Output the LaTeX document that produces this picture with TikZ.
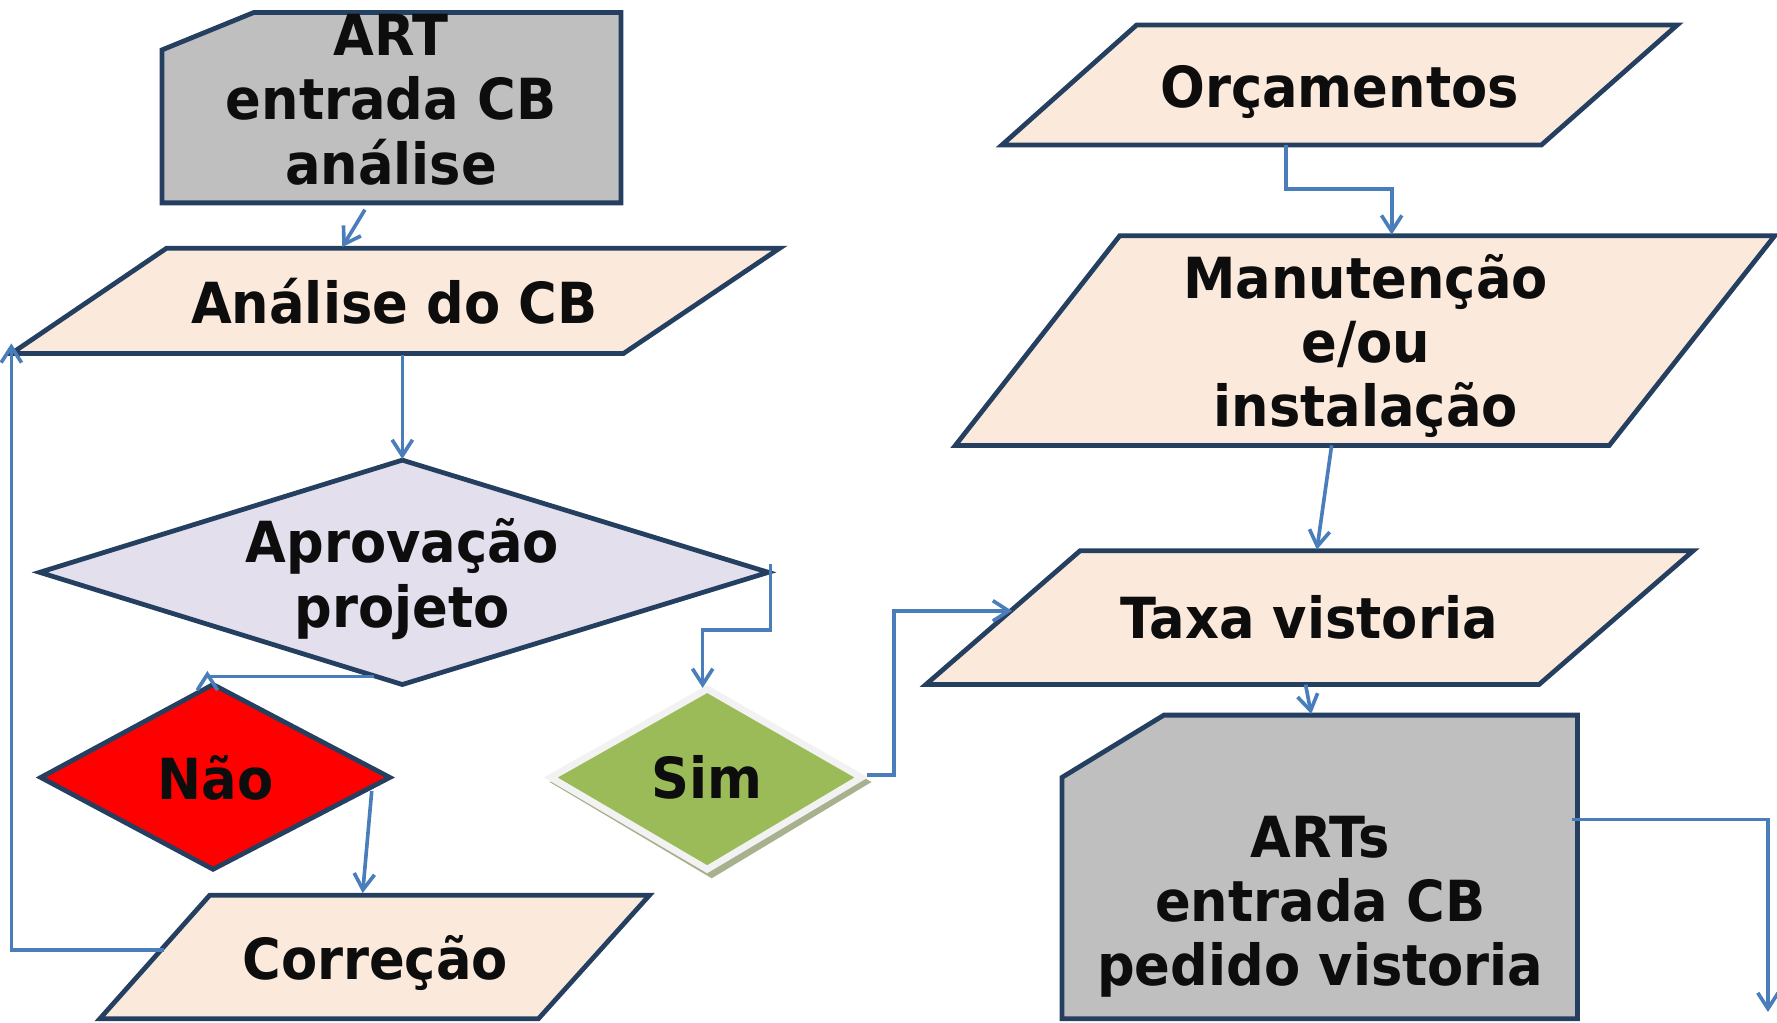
\documentclass[tikz,border=0pt]{standalone}
\usepackage{fontspec}
\setmainfont{DejaVu Sans}[FakeStretch=0.93]
\usetikzlibrary{arrows.meta}
\definecolor{navyc}{HTML}{243F60}
\definecolor{peachc}{HTML}{FBE9DB}
\definecolor{lavc}{HTML}{E4DFEC}
\definecolor{greyc}{HTML}{BFBFBF}
\definecolor{redc}{HTML}{FF0000}
\definecolor{greenc}{HTML}{9BBB59}
\definecolor{simborder}{HTML}{F2F2F2}
\definecolor{shadowc}{HTML}{A8B18E}
\definecolor{conc}{HTML}{4A7EBB}
\definecolor{txtc}{HTML}{0D0D0D}
\begin{document}
\begin{tikzpicture}[x=0.5pt,y=-0.5pt,
  shapeline/.style={draw=navyc,line width=2.1pt,line join=miter},
  peachbox/.style={shapeline,fill=peachc},
  greybox/.style={shapeline,fill=greyc},
  lbl/.style={font=\fontsize{25pt}{28.3pt}\selectfont\bfseries,text=txtc,align=center,inner sep=0pt},
  conn/.style={draw=conc,line width=1.6pt,-{Straight Barb[length=7pt,width=9pt,line width=1.6pt]}},
  connplain/.style={draw=conc,line width=1.6pt}]
\useasboundingbox (0,0) rectangle (1568,902);

% ---------- shapes ----------
% ART box
\draw[greybox] (143,44) -- (224,11) -- (548,11) -- (548,179) -- (143,179) -- cycle;
\node[lbl] (art) at (345,88) {ART\\entrada CB\\análise};

% Analise do CB
\draw[peachbox] (147,219) -- (688,219) -- (550,312) -- (10,312) -- cycle;
\node[lbl] (ana) at (348,266) {Análise do CB};

% Aprovacao projeto
\draw[shapeline,fill=lavc] (355,406) -- (678,505) -- (355,604) -- (35,505) -- cycle;
\node[lbl] (apr) at (355,511) {Aprovação\\projeto};

% Nao
\draw[shapeline,fill=redc] (188,604) -- (344,686) -- (188,767) -- (36,686) -- cycle;
\node[lbl] (nao) at (190,686) {Não};

% Sim
\fill[shadowc] (628,609) -- (769,690) -- (628,775) -- (485,690) -- cycle;
\draw[draw=simborder,line width=3pt,fill=greenc,line join=miter] (624,608) -- (760,686) -- (624,767) -- (486,686) -- cycle;
\node[lbl] (sim) at (624,686) {Sim};

% Correcao
\draw[peachbox] (185,790) -- (573,790) -- (475,899) -- (88,899) -- cycle;
\node[lbl] (cor) at (331,850) {Correção};

% Orcamentos
\draw[peachbox] (1003,22) -- (1480,22) -- (1360,128) -- (884,128) -- cycle;
\node[lbl] (orc) at (1182,81) {Orçamentos};

% Manutencao
\draw[peachbox] (988,208) -- (1566,208) -- (1420,393) -- (843,393) -- cycle;
\node[lbl] (man) at (1205,305) {Manutenção\\e/ou\\instalação};

% Taxa vistoria
\draw[peachbox] (953,486) -- (1494,486) -- (1358,604) -- (817,604) -- cycle;
\node[lbl] (tax) at (1155,545) {Taxa vistoria};

% ARTs box
\draw[greybox] (937,686) -- (1027,631) -- (1392,631) -- (1392,899) -- (937,899) -- cycle;
\node[lbl] (arts) at (1165,800) {ARTs\\entrada CB\\pedido vistoria};

% ---------- connection points ----------
\coordinate (artB) at (322,185);
\coordinate (anaT) at (302,218);
\coordinate (anaB) at (355,313);
\coordinate (aprT) at (355,405);
\coordinate (aprBL) at (330,597);
\coordinate (naoT) at (183,592);
\coordinate (aprR) at (680,498);
\coordinate (aprBend) at (620,556);
\coordinate (simT) at (620,607);
\coordinate (naoR) at (328,698);
\coordinate (corT) at (320,788);
\coordinate (corL) at (145,838);
\coordinate (anaL) at (10,303);
\coordinate (simR) at (765,684);
\coordinate (simBend) at (789,539);
\coordinate (taxL) at (893,539);
\coordinate (orcB) at (1135,128);
\coordinate (orcBend) at (1228,167);
\coordinate (manT) at (1228,207);
\coordinate (manB) at (1175,393);
\coordinate (taxT) at (1162,485);
\coordinate (taxB) at (1152,604);
\coordinate (artsT) at (1157,630);
\coordinate (artsR) at (1387,723);
\coordinate (outEnd) at (1560,893);

% ---------- connectors ----------
\draw[conn] (artB) -- (anaT);
\draw[conn] (anaB) -- (aprT);
\draw[conn] (aprBL) -| (naoT);
\draw[conn] (aprR) |- (aprBend) -- (simT);
\draw[conn] (naoR) -- (corT);
\draw[conn] (corL) -| (anaL);
\draw[conn] (simR) -| (simBend) -- (taxL);
\draw[conn] (orcB) |- (orcBend) -- (manT);
\draw[conn] (manB) -- (taxT);
\draw[conn] (taxB) -- (artsT);
\draw[conn] (artsR) -| (outEnd);
\end{tikzpicture}
\end{document}
